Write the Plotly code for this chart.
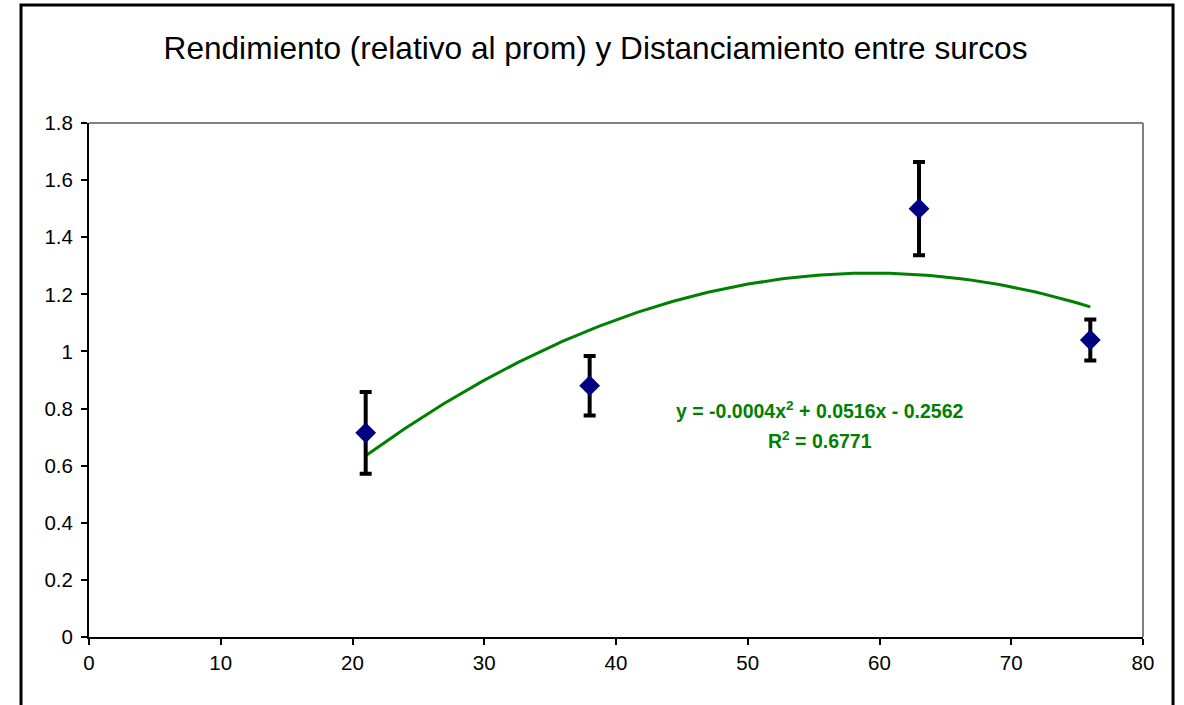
import numpy as np
import plotly.graph_objects as go

# Data
distancia = [21, 38, 63, 76]
rendimiento = [0.715, 0.880, 1.500, 1.040]
error = [0.143, 0.104, 0.163, 0.072]
x_ticks = [0, 10, 20, 30, 40, 50, 60, 70, 80]
y_ticks = [0, 0.2, 0.4, 0.6, 0.8, 1.0, 1.2, 1.4, 1.6, 1.8]
y_ticktext = ["0", "0.2", "0.4", "0.6", "0.8", "1", "1.2", "1.4", "1.6", "1.8"]
title = "Rendimiento (relativo al prom) y Distanciamiento entre surcos"
eq_line1 = "y = -0.0004x<sup>2</sup> + 0.0516x - 0.2562"
eq_line2 = "R<sup>2</sup> = 0.6771"

# Polynomial (order 2) trendline fitted to the data, as the spreadsheet does
coef = np.polyfit(distancia, rendimiento, 2)
xt = np.linspace(min(distancia), max(distancia), 200)
yt = np.polyval(coef, xt)

FONT = "Liberation Sans, Arial, sans-serif"

fig = go.Figure()
fig.add_trace(go.Scatter(
    x=xt, y=yt, mode="lines",
    line=dict(color="#008000", width=3),
    hoverinfo="skip", showlegend=False))
fig.add_trace(go.Scatter(
    x=distancia, y=rendimiento, mode="markers",
    marker=dict(symbol="diamond", size=16, color="#000080"),
    error_y=dict(type="data", array=error, visible=True,
                 color="black", thickness=4, width=6),
    showlegend=False))

fig.update_layout(
    width=1184, height=705,
    margin=dict(l=89, r=41, t=123, b=68),
    paper_bgcolor="white", plot_bgcolor="white",
    font=dict(family=FONT, color="black"),
    title=dict(text=title, x=0.503, xanchor="center", y=0.9326, yanchor="middle",
               font=dict(size=31.6, color="black", family=FONT)),
    xaxis=dict(range=[0, 80], tickvals=x_ticks, ticks="outside", ticklen=6,
               tickwidth=2, tickcolor="black", showline=True, linecolor="black",
               linewidth=2, showgrid=False, zeroline=False,
               tickfont=dict(size=20.5), fixedrange=True),
    yaxis=dict(range=[0, 1.8], tickvals=y_ticks, ticktext=y_ticktext,
               ticks="outside", ticklen=6, tickwidth=2, tickcolor="black",
               showline=True, linecolor="black", linewidth=2, showgrid=False,
               zeroline=False, tickfont=dict(size=20.5), fixedrange=True,
               ticklabelstandoff=4),
    annotations=[
        dict(text=eq_line1, x=0.6935, y=0.4416, xref="paper", yref="paper",
             xanchor="center", yanchor="middle", showarrow=False,
             font=dict(size=19.5, color="#008000", family=FONT, weight="bold")),
        dict(text=eq_line2, x=0.6935, y=0.3833, xref="paper", yref="paper",
             xanchor="center", yanchor="middle", showarrow=False,
             font=dict(size=19.5, color="#008000", family=FONT, weight="bold")),
    ],
    shapes=[
        dict(type="line", xref="paper", yref="paper", x0=0, x1=1, y0=1, y1=1,
             line=dict(color="#808080", width=2)),
        dict(type="line", xref="paper", yref="paper", x0=1, x1=1, y0=0, y1=1,
             line=dict(color="#808080", width=2)),
        dict(type="rect", xref="paper", yref="paper", x0=-0.0645, x1=1.0285,
             y0=-0.2, y1=1.2296, line=dict(color="black", width=3),
             fillcolor="rgba(0,0,0,0)", layer="below"),
    ],
)

fig.write_html("out.html", config={"displayModeBar": False},
               post_script="document.body.style.margin='0px';")
